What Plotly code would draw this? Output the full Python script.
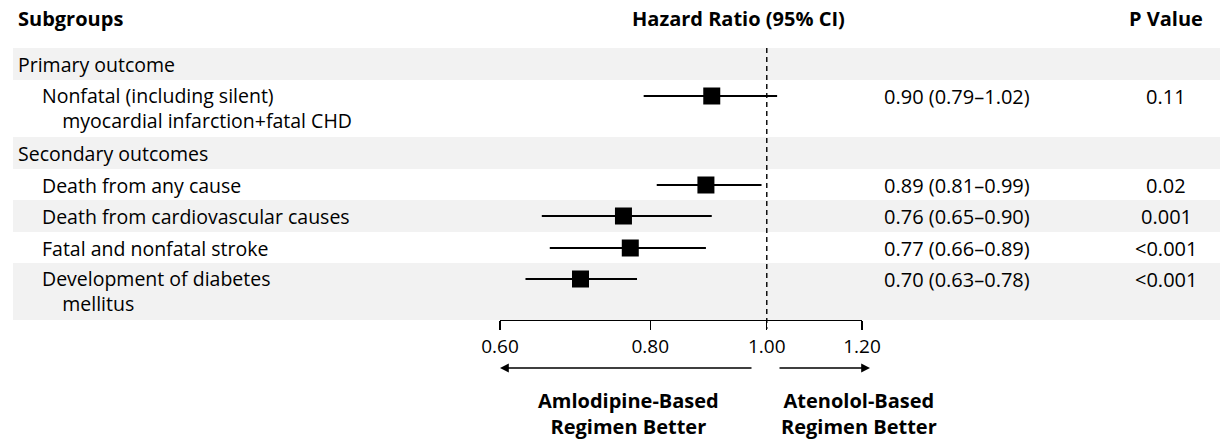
import math
import plotly.graph_objects as go

# ---------------- data ----------------
row_labels = [
    "Primary outcome",
    "Nonfatal (including silent)<br>myocardial infarction+fatal CHD",
    "Secondary outcomes",
    "Death from any cause",
    "Death from cardiovascular causes",
    "Fatal and nonfatal stroke",
    "Development of diabetes<br>mellitus",
]
is_heading = [True, False, True, False, False, False, False]
hr = [None, 0.90, None, 0.89, 0.76, 0.77, 0.70]
ci_low = [None, 0.79, None, 0.81, 0.65, 0.66, 0.63]
ci_high = [None, 1.02, None, 0.99, 0.90, 0.89, 0.78]
p_values = [None, "0.11", None, "0.02", "0.001", "<0.001", "<0.001"]
tick_values = [0.60, 0.80, 1.00, 1.20]
tick_labels = ["0.60", "0.80", "1.00", "1.20"]
x_range = [0.60, 1.20]

# ---------------- layout geometry (pixels) ----------------
W, H = 1220, 439
FONT = "Open Sans"
FS = 19.5
FS_NUM = 20
FS_BOLD = 20
table_top = 48
row_heights = [32, 57, 32, 31, 32, 31, 57]
shade = [True, False, True, False, True, False, True]

tops = []
t = table_top
for h in row_heights:
    tops.append(t)
    t += h
table_bottom = t
first_line = [tp + 16 for tp in tops]

def px(x):
    return x / W

fig = go.Figure()

shapes = []
annotations = []

# shaded bands
for tp, h, s in zip(tops, row_heights, shade):
    if s:
        shapes.append(dict(type="rect", xref="paper", yref="y", x0=px(13), x1=1,
                           y0=tp, y1=tp + h, fillcolor="#f2f2f2", line_width=0,
                           layer="below"))

# reference dashed line at HR=1
shapes.append(dict(type="line", xref="x", yref="y", x0=1, x1=1,
                   y0=table_top, y1=table_bottom + 9,
                   line=dict(color="black", width=1.4, dash="5px,4px")))

# CI lines
cx, cy = [], []
for lo, hi_, y in zip(ci_low, ci_high, first_line):
    if lo is None:
        continue
    cx += [lo, hi_, None]
    cy += [y, y, None]
fig.add_trace(go.Scatter(x=cx, y=cy, mode="lines",
                         line=dict(color="black", width=2.2),
                         hoverinfo="skip", showlegend=False, cliponaxis=False))

# point estimates
mx = [v for v in hr if v is not None]
my = [y for v, y in zip(hr, first_line) if v is not None]
fig.add_trace(go.Scatter(x=mx, y=my, mode="markers",
                         marker=dict(symbol="square", size=17, color="black"),
                         showlegend=False, cliponaxis=False))

# headers
hdr_font = dict(family=FONT, size=FS_BOLD, color="black", weight="bold")
annotations.append(dict(text="Subgroups", x=px(16), y=18, xref="paper", yref="y",
                        xanchor="left", yanchor="middle", showarrow=False, font=hdr_font))
annotations.append(dict(text="Hazard Ratio (95% CI)", x=px(738), y=18, xref="paper", yref="y",
                        xanchor="center", yanchor="middle", showarrow=False, font=hdr_font))
annotations.append(dict(text="P Value", x=px(1166), y=18, xref="paper", yref="y",
                        xanchor="center", yanchor="middle", showarrow=False, font=hdr_font))

txt_font = dict(family=FONT, size=FS, color="black")
num_font = dict(family=FONT, size=FS_NUM, color="black")
INDENT = "\u00a0" * 4
for lab, head, y, v, lo, hi_, p in zip(row_labels, is_heading, first_line, hr, ci_low, ci_high, p_values):
    lines = lab.split("<br>")
    xl = 16 if head else 40
    if len(lines) == 1:
        annotations.append(dict(text=lines[0], x=px(xl), y=y, xref="paper", yref="y",
                                xanchor="left", yanchor="middle", showarrow=False, font=txt_font))
    else:
        text = lines[0] + "<br>" + INDENT + lines[1]
        annotations.append(dict(text=text, x=px(xl), y=y + 12, xref="paper", yref="y",
                                xanchor="left", yanchor="middle", align="left",
                                showarrow=False, font=txt_font))
    if v is not None:
        annotations.append(dict(text=f"{v:.2f} ({lo:.2f}\u2013{hi_:.2f})", x=px(882), y=y,
                                xref="paper", yref="y", xanchor="left", yanchor="middle",
                                showarrow=False, font=num_font))
        annotations.append(dict(text=p, x=px(1166), y=y, xref="paper", yref="y",
                                xanchor="center", yanchor="middle", showarrow=False, font=num_font))

# direction arrows
arrow_y = 368
annotations.append(dict(x=px(500), y=arrow_y, ax=753 - 500, ay=0, xref="paper", yref="y",
                        axref="pixel", ayref="pixel", text="", showarrow=True,
                        arrowhead=2, arrowsize=1.1, arrowwidth=1.6, arrowcolor="black"))
annotations.append(dict(x=px(870), y=arrow_y, ax=778 - 870, ay=0, xref="paper", yref="y",
                        axref="pixel", ayref="pixel", text="", showarrow=True,
                        arrowhead=2, arrowsize=1.1, arrowwidth=1.6, arrowcolor="black"))
bfont = dict(family=FONT, size=FS_BOLD, color="black", weight="bold")
for txt, cxp in [("Amlodipine-Based", 628), ("Atenolol-Based", 859)]:
    annotations.append(dict(text=txt + "<br>Regimen Better", x=px(cxp), y=413, xref="paper", yref="y",
                            xanchor="center", yanchor="middle", align="center",
                            showarrow=False, font=bfont))

axis_px = table_bottom
fig.update_layout(
    width=W, height=H, autosize=False,
    margin=dict(l=0, r=0, t=0, b=0, pad=0, autoexpand=False),
    paper_bgcolor="white", plot_bgcolor="rgba(0,0,0,0)",
    shapes=shapes, annotations=annotations,
    xaxis=dict(type="log", domain=[px(500), px(862)],
               range=[math.log10(x_range[0]), math.log10(x_range[1])],
               anchor="free", position=1 - axis_px / H, automargin=False,
               showline=True, linecolor="black", linewidth=1.3,
               ticks="outside", ticklen=9, tickwidth=1.3, tickcolor="black",
               tickvals=tick_values, ticktext=tick_labels,
               tickfont=dict(family=FONT, size=19, color="black"),
               showgrid=False, zeroline=False, fixedrange=True),
    yaxis=dict(range=[H, 0], domain=[0, 1], visible=False, fixedrange=True, automargin=False),
    showlegend=False,
    hovermode=False,
)

fig.write_html("out.html", config={"displayModeBar": False, "staticPlot": True},
               post_script="document.body.style.margin='0';")
